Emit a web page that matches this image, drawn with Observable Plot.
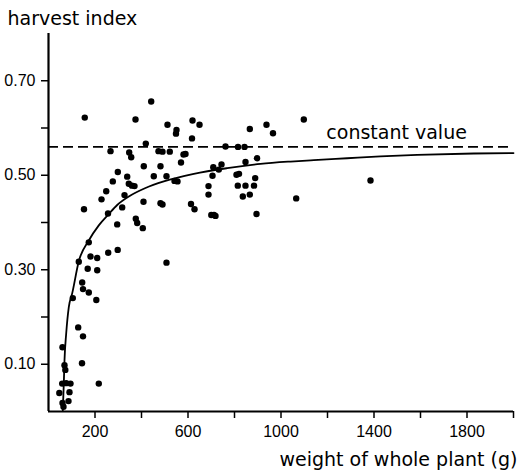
<!DOCTYPE html>
<html>
<head>
<meta charset="utf-8">
<script src="https://cdn.jsdelivr.net/npm/d3@7"></script>
<script src="https://cdn.jsdelivr.net/npm/@observablehq/plot@0.6"></script>
<style>
  html, body { margin: 0; padding: 0; background: #fff; }
  #chart svg { display: block; }
</style>
</head>
<body>
<div id="chart"></div>
<script>
// Observations: whole-plant weight (g) and harvest index
const plantWeight = [
  156, 441.7, 374.2, 266.7, 347.1, 355.7, 418.5, 473.1, 490.3, 521.7,
  511.8, 550.5, 548.4, 619.4, 649.5, 617.2, 580.6, 589.2, 569.9, 481.7,
  409.9, 452.9, 507.5, 541.9, 554.8, 298.1, 338.5, 276.6, 345.4, 359.1,
  369.9, 248.2, 326.9, 228, 408.6, 481.7, 490.3, 612.9, 628, 152.7,
  317, 255.9, 295.5, 375.5, 381.5, 405.6, 688.2, 688.2, 708.8, 705.4,
  744.1, 732.5, 700.2, 711.8, 718.3, 761.3, 815.1, 843, 865.8, 937.6,
  965.6, 1098.1, 847.3, 896.8, 808.6, 819.4, 814.2, 847.3, 883.9, 889,
  835.7, 865.8, 894.6, 1065.4, 1384.9, 173.3, 130.3, 180.6, 209.5, 256.8,
  297.6, 168.6, 209.5, 507.5, 144.9, 148.4, 173.3, 205.6, 104.5, 127.7,
  148.4, 60.2, 144.1, 68.8, 72.3, 58.9, 76.1, 94.6, 216.3, 46.5,
  90.3, 86, 60.2, 64.5
];
const harvestIndex = [
  0.622, 0.656, 0.618, 0.551, 0.548, 0.538, 0.567, 0.551, 0.550, 0.550,
  0.607, 0.596, 0.588, 0.616, 0.607, 0.578, 0.544, 0.545, 0.527, 0.519,
  0.519, 0.498, 0.498, 0.488, 0.487, 0.507, 0.497, 0.487, 0.482, 0.478,
  0.477, 0.466, 0.458, 0.449, 0.444, 0.441, 0.438, 0.439, 0.428, 0.428,
  0.432, 0.419, 0.396, 0.408, 0.399, 0.388, 0.477, 0.459, 0.517, 0.499,
  0.523, 0.512, 0.416, 0.416, 0.414, 0.561, 0.560, 0.560, 0.598, 0.607,
  0.589, 0.618, 0.528, 0.536, 0.501, 0.503, 0.478, 0.478, 0.478, 0.494,
  0.455, 0.459, 0.418, 0.451, 0.489, 0.358, 0.317, 0.328, 0.325, 0.336,
  0.342, 0.302, 0.299, 0.315, 0.273, 0.259, 0.252, 0.236, 0.240, 0.178,
  0.159, 0.136, 0.102, 0.098, 0.088, 0.059, 0.060, 0.059, 0.059, 0.039,
  0.041, 0.022, 0.018, 0.010
];

// Fitted curve
const curveWeight = [61.5, 65.8, 68.8, 76.1, 87.3, 101.9, 130.3, 173.3, 216.3, 259.4,
  295.5, 345.4, 417.2, 495.9, 625, 768.6, 911.8, 1040.9, 1141, 1284.7,
  1428, 1585.8, 1829.2, 2000];
const curveIndex = [0.002, 0.059, 0.108, 0.165, 0.221, 0.250, 0.318, 0.362, 0.394, 0.418,
  0.437, 0.455, 0.473, 0.487, 0.503, 0.515, 0.524, 0.529, 0.532, 0.536,
  0.540, 0.543, 0.546, 0.547];

// Constant value line
const constantValue = [0.56];
const constantLabel = ["constant value"];
const constantLabelPos = [1195, 0.590];

// Axes
const xTicks = [200, 400, 600, 800, 1000, 1200, 1400, 1600, 1800, 2000];
const xLabeledTicks = [200, 600, 1000, 1400, 1800];
const xTickLabels = ["200", "600", "1000", "1400", "1800"];
const yTicks = [0.1, 0.2, 0.3, 0.4, 0.5, 0.6, 0.7];
const yLabeledTicks = [0.1, 0.3, 0.5, 0.7];
const yTickLabels = ["0.10", "0.30", "0.50", "0.70"];
const yTitle = "harvest index";
const xTitle = "weight of whole plant (g)";

const points = plantWeight.map((w, i) => ({w, h: harvestIndex[i]}));
const curve = curveWeight.map((w, i) => ({w, h: curveIndex[i]}));

const labelFont = "DejaVu Sans";
const tickFont = "Liberation Sans";

const chart = Plot.plot({
  width: 518,
  height: 471,
  marginLeft: 48,
  marginRight: 5,
  marginTop: 33,
  marginBottom: 60,
  style: {background: "#fff", color: "#000"},
  x: {domain: [0, 2000]},
  y: {domain: [0, 0.8]},
  marks: [
    Plot.axisX({
      ticks: xTicks, tickSize: 7, tickPadding: 7, strokeWidth: 1.5,
      fontSize: 16, fontFamily: tickFont, label: null,
      tickFormat: d => { const k = xLabeledTicks.indexOf(d); return k >= 0 ? xTickLabels[k] : ""; }
    }),
    Plot.axisY({
      ticks: yTicks, tickSize: 7, tickPadding: 6, strokeWidth: 1.5,
      fontSize: 16, fontFamily: tickFont, label: null,
      tickFormat: d => { const k = yLabeledTicks.findIndex(v => Math.abs(v - d) < 1e-9); return k >= 0 ? yTickLabels[k] : ""; }
    }),
    Plot.ruleY(constantValue, {stroke: "#000", strokeWidth: 1.6, strokeDasharray: "10,5"}),
    Plot.line(curve, {x: "w", y: "h", curve: "monotone-x", stroke: "#000", strokeWidth: 1.8}),
    Plot.dot(points, {x: "w", y: "h", r: 3.2, fill: "#000", stroke: "none"}),
    Plot.ruleX([0], {stroke: "#000", strokeWidth: 2.2}),
    Plot.ruleY([0], {stroke: "#000", strokeWidth: 2.2}),
    Plot.text(constantLabel, {x: [constantLabelPos[0]], y: [constantLabelPos[1]], text: d => d,
      textAnchor: "start", lineAnchor: "middle", fontSize: 19, fontFamily: labelFont, fill: "#000"}),
    Plot.text([yTitle], {frameAnchor: "top-left", dx: -41, dy: -14.5, textAnchor: "start",
      lineAnchor: "middle", fontSize: 19, fontFamily: labelFont, fill: "#000"}),
    Plot.text([xTitle], {frameAnchor: "bottom-right", dx: 4, dy: 48, textAnchor: "end",
      lineAnchor: "middle", fontSize: 19, fontFamily: labelFont, fill: "#000"})
  ]
});
document.getElementById("chart").appendChild(chart);
</script>
</body>
</html>
